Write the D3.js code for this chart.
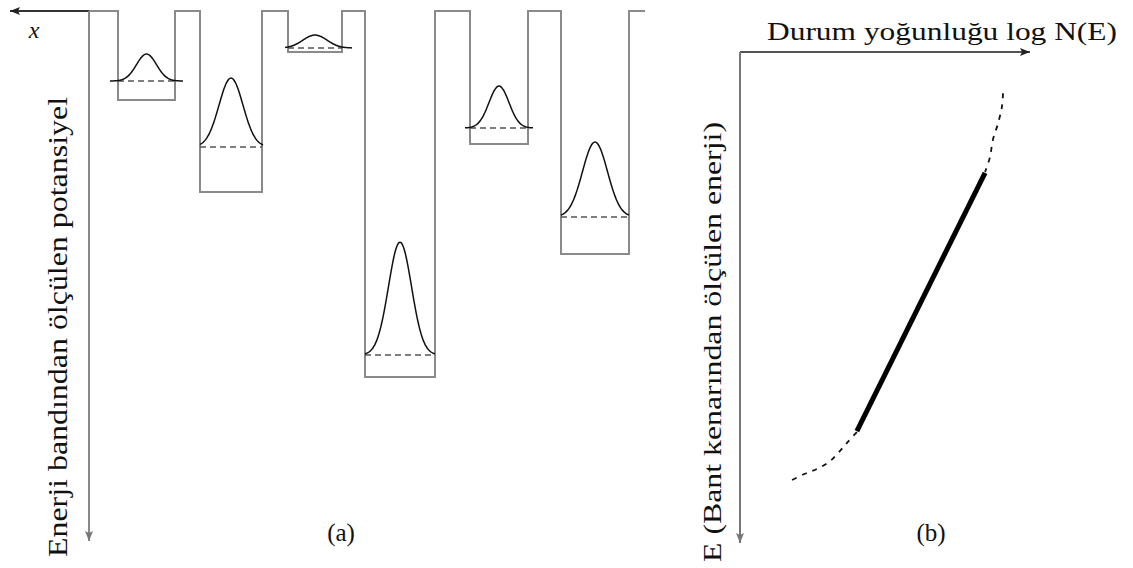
<!DOCTYPE html>
<html>
<head>
<meta charset="utf-8">
<script src="https://cdn.jsdelivr.net/npm/d3@7"></script>
<style>
	body { margin: 0; background: #fff; }
	.c-svg { width: 1133px; height: 568px; }
</style>
</head>
<body>
<div class="c-svg"></div>
<script>
//DATA
//-------------------------------------------------------------------------

//panel (a): wells along x (distance units), depths in energy units (0 = band edge)
const wellLeft = [118, 200, 288, 365, 470, 561];
const wellRight = [175, 262, 342, 435, 528, 629];
const wellDepth = [89, 181, 41, 366, 133, 243];
const levelDepth = [70, 136, 37, 344, 117, 206];
const peakDepth = [43, 67, 24, 231, 75, 131];
const peakSigma = [10, 12, 12, 11.5, 10, 12.5];
const gaussFrom = [110, 200, 285, 365, 465, 561];
const gaussTo = [183, 263, 352, 435, 533, 629];
const profileStart = 10;
const profileEnd = 645;

//panel (b): log N(E) vs E
const solidLogN = [84.5, 40.3];
const solidE = [24.6, 77.2];
const upperLogN = [90.7, 90.3, 89.0, 87.2, 86.2, 84.5];
const upperE = [8.4, 11.2, 14.5, 17.9, 21.4, 24.4];
const lowerLogN = [40.3, 37.2, 34.1, 30.7, 26.6, 22.4, 17.2];
const lowerE = [77.4, 79.4, 81.5, 83.5, 84.9, 85.9, 87.4];

//labels
const labelX = "x";
const labelA = "Enerji bandından ölçülen potansiyel";
const labelB = "E (Bant kenarından ölçülen enerji)";
const labelTop = "Durum yoğunluğu  log N(E)";
const panelNames = ["(a)", "(b)"];

const serif = "'Liberation Serif', 'Times New Roman', Tinos, 'DejaVu Serif', serif";


//INITIALISATION
//-------------------------------------------------------------------------
const opts = {
	width: 1133,
	height: 568
};

const svg = d3.select(".c-svg")
	.append("svg")
	.attr("width", opts.width)
	.attr("height", opts.height);

const defs = svg.append("defs");
function arrowMarker(id, color){
	defs.append("marker")
		.attr("id", id)
		.attr("viewBox", "0 0 10 10")
		.attr("refX", 10)
		.attr("refY", 5)
		.attr("markerWidth", 10)
		.attr("markerHeight", 10)
		.attr("markerUnits", "userSpaceOnUse")
		.attr("orient", "auto")
		.append("path")
		.attr("d", "M0,1 L10,5 L0,9 L2,5 Z")
		.style("fill", color);
}
arrowMarker("arrowDark", "#222");
arrowMarker("arrowGray", "#777");

function label(g, txt, size){
	return g.append("text")
		.attr("font-family", serif)
		.style("font-family", serif)
		.style("font-size", size + "px")
		.style("fill", "#111")
		.text(txt);
}


//PANEL (a)
//-------------------------------------------------------------------------
const xA = d3.scaleLinear().domain([0, 1000]).range([0, 1000]);
const yA = d3.scaleLinear().domain([0, 366]).range([11, 377]);

const gA = svg.append("g").attr("class", "panel-a");

//potential profile
const profile = [[profileStart, 0]];
wellLeft.forEach((x0, i) => {
	profile.push([x0, 0], [x0, wellDepth[i]], [wellRight[i], wellDepth[i]], [wellRight[i], 0]);
});
profile.push([profileEnd, 0]);

gA.append("path")
	.datum(profile)
	.attr("d", d3.line().x(d => xA(d[0])).y(d => yA(d[1])))
	.style("fill", "none")
	.style("stroke", "#8a8a8a")
	.style("stroke-width", 2);

//x arrow on the band edge
gA.append("line")
	.attr("x1", xA(89)).attr("y1", yA(0))
	.attr("x2", xA(profileStart)).attr("y2", yA(0))
	.style("stroke", "#333")
	.style("stroke-width", 2)
	.attr("marker-end", "url(#arrowDark)");

//vertical energy axis
gA.append("line")
	.attr("x1", xA(89)).attr("y1", yA(0))
	.attr("x2", xA(89)).attr("y2", 541)
	.style("stroke", "#888")
	.style("stroke-width", 2)
	.attr("marker-end", "url(#arrowGray)");

//dashed levels
gA.selectAll(".level")
	.data(levelDepth)
	.join("line")
	.attr("class", "level")
	.attr("x1", (d, i) => xA(wellLeft[i]))
	.attr("x2", (d, i) => xA(wellRight[i]))
	.attr("y1", d => yA(d))
	.attr("y2", d => yA(d))
	.style("stroke", "#555")
	.style("stroke-width", 1.6)
	.style("stroke-dasharray", "6,4");

//gaussian distributions
const gaussLine = d3.line().x(d => xA(d[0])).y(d => yA(d[1])).curve(d3.curveBasis);
gA.selectAll(".gauss")
	.data(levelDepth.map((lv, i) => {
		const c = (wellLeft[i] + wellRight[i]) / 2;
		const pts = [];
		for (let x = gaussFrom[i]; x <= gaussTo[i] + 0.01; x += 1){
			const g = Math.exp(-((x - c) * (x - c)) / (2 * peakSigma[i] * peakSigma[i]));
			pts.push([x, lv - (lv - peakDepth[i]) * g]);
		}
		return pts;
	}))
	.join("path")
	.attr("class", "gauss")
	.attr("d", gaussLine)
	.style("fill", "none")
	.style("stroke", "#111")
	.style("stroke-width", 1.5);

label(gA, labelX, 24)
	.attr("x", 34).attr("y", 38)
	.attr("text-anchor", "middle")
	.style("font-style", "italic");

label(gA, labelA, 27)
	.attr("transform", "translate(67,557) rotate(-90)")
	.attr("textLength", 460)
	.attr("lengthAdjust", "spacingAndGlyphs");

label(gA, panelNames[0], 25)
	.attr("x", 341).attr("y", 541)
	.attr("text-anchor", "middle");


//PANEL (b)
//-------------------------------------------------------------------------
const xB = d3.scaleLinear().domain([0, 100]).range([740, 1030]);
const yB = d3.scaleLinear().domain([0, 100]).range([52, 543]);
const gB = svg.append("g").attr("class", "panel-b");

gB.append("line")
	.attr("x1", xB(0)).attr("y1", yB(0))
	.attr("x2", xB(100)).attr("y2", yB(0))
	.style("stroke", "#555")
	.style("stroke-width", 2)
	.attr("marker-end", "url(#arrowDark)");

gB.append("line")
	.attr("x1", xB(0)).attr("y1", yB(0))
	.attr("x2", xB(0)).attr("y2", yB(100))
	.style("stroke", "#777")
	.style("stroke-width", 2)
	.attr("marker-end", "url(#arrowGray)");

const lineB = d3.line().x(d => xB(d[0])).y(d => yB(d[1]));

gB.append("path")
	.datum(solidLogN.map((v, i) => [v, solidE[i]]))
	.attr("d", lineB)
	.style("fill", "none")
	.style("stroke", "#000")
	.style("stroke-width", 5);

[[upperLogN, upperE], [lowerLogN, lowerE]].forEach(([xs, ys]) => {
	gB.append("path")
		.datum(xs.map((v, i) => [v, ys[i]]))
		.attr("d", d3.line().x(d => xB(d[0])).y(d => yB(d[1])).curve(d3.curveCardinal))
		.style("fill", "none")
		.style("stroke", "#111")
		.style("stroke-width", 1.8)
		.style("stroke-dasharray", "5,6");
});

label(gB, labelTop, 25)
	.attr("x", 767).attr("y", 40)
	.attr("textLength", 350)
	.attr("lengthAdjust", "spacingAndGlyphs");

label(gB, labelB, 26)
	.attr("transform", "translate(721,562) rotate(-90)")
	.attr("textLength", 440)
	.attr("lengthAdjust", "spacingAndGlyphs");

label(gB, panelNames[1], 25)
	.attr("x", 931).attr("y", 541)
	.attr("text-anchor", "middle");
</script>
</body>
</html>
